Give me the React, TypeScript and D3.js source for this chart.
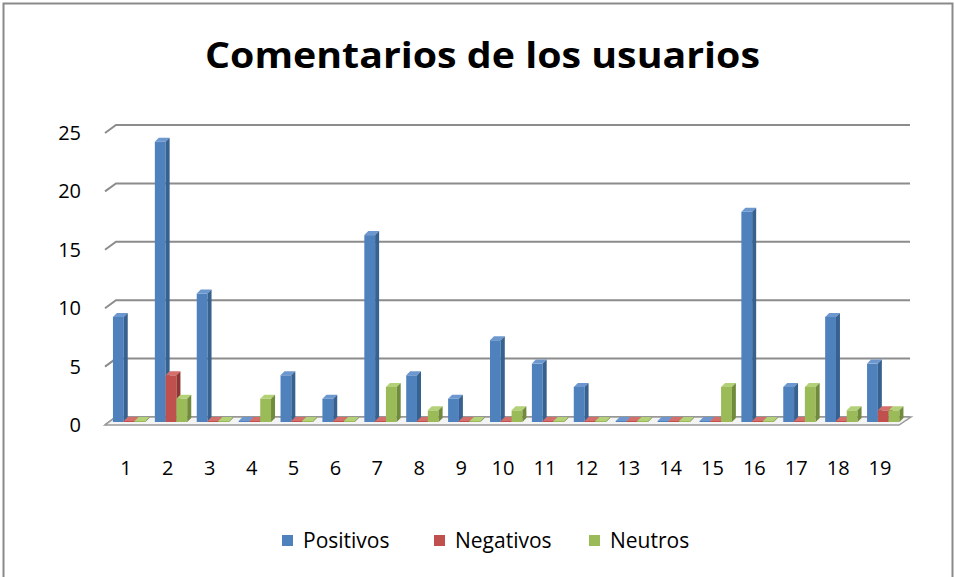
import React from 'react';
import * as d3 from 'd3';

const categories = ['1', '2', '3', '4', '5', '6', '7', '8', '9', '10', '11', '12', '13', '14', '15', '16', '17', '18', '19'];
const positivos = [9, 24, 11, 0, 4, 2, 16, 4, 2, 7, 5, 3, 0, 0, 0, 18, 3, 9, 5];
const negativos = [0, 4, 0, 0, 0, 0, 0, 0, 0, 0, 0, 0, 0, 0, 0, 0, 0, 0, 1];
const neutros = [0, 2, 0, 2, 0, 0, 3, 1, 0, 1, 0, 0, 0, 0, 3, 0, 3, 1, 1];
const yTicks = [0, 5, 10, 15, 20, 25];

const seriesList = [
  { name: 'Positivos', values: positivos, front: '#4f81bd', top: '#6d98cf', side: '#37618f' },
  { name: 'Negativos', values: negativos, front: '#c0504d', top: '#d46f6c', side: '#8f3532' },
  { name: 'Neutros', values: neutros, front: '#9bbb59', top: '#b3d176', side: '#718b3c' },
];

const W = 955;
const H = 577;
const FONT = '"Open Sans", sans-serif';

// front plane of the 3D box
const left = 105;
const right = 901;
const wallDx = 11;
const wallDy = -8;
const wallRight = 910;

const x = d3.scaleBand<string>().domain(categories).range([left, right]);
const y = d3.scaleLinear().domain([0, 25]).range([425, 133]);

const barW = 10.8;
const depth = 4;
const barDy = -3;

export default function App() {
  const bars: React.ReactNode[] = [];
  categories.forEach((c, i) => {
    const center = (x(c) as number) + x.bandwidth() / 2;
    seriesList.forEach((s, j) => {
      const v = s.values[i];
      const bx = center - 13 + j * barW;
      const top = y(v) + barDy - (v === 0 ? 1 : 0);
      const bottom = y(0) + barDy;
      bars.push(
        <g key={`${c}-${s.name}`}>
          <rect x={bx} y={top} width={barW} height={bottom - top} fill={s.front} />
          <polygon
            points={`${bx},${top} ${bx + depth},${top - depth} ${bx + barW + depth},${top - depth} ${bx + barW},${top}`}
            fill={s.top}
          />
          <polygon
            points={`${bx + barW},${top} ${bx + barW + depth},${top - depth} ${bx + barW + depth},${bottom - depth} ${bx + barW},${bottom}`}
            fill={s.side}
          />
        </g>
      );
    });
  });

  const legendItems = [
    { label: 'Positivos', x: 282 },
    { label: 'Negativos', x: 434 },
    { label: 'Neutros', x: 589 },
  ];

  return (
    <div style={{ position: 'absolute', left: 0, top: 0 }}>
      <svg width={W} height={H} style={{ display: 'block', background: '#fff' }}>
        <rect x={3.5} y={3.5} width={949} height={600} fill="#fff" stroke="#8a8a8a" strokeWidth={2} />

        <text
          x={205}
          y={68}
          textLength={555}
          lengthAdjust="spacingAndGlyphs"
          fontFamily={FONT}
          fontWeight={700}
          fontSize={35}
          fill="#000"
        >
          Comentarios de los usuarios
        </text>

        {/* gridlines on the back wall */}
        {yTicks.map((t) => (
          <path
            key={t}
            d={`M${left},${y(t)} L${left + wallDx},${y(t) + wallDy} L${wallRight},${y(t) + wallDy}`}
            fill="none"
            stroke="#8c8c8c"
            strokeWidth={2}
          />
        ))}

        {/* floor */}
        <polygon
          points={`${left},${y(0)} ${wallRight - wallDx},${y(0)} ${wallRight + 1},${y(0) + wallDy} ${left + wallDx},${y(0) + wallDy}`}
          fill="#f4f4f4"
          stroke="#9a9a9a"
          strokeWidth={1.5}
        />

        {bars}

        {yTicks.map((t) => (
          <text key={t} x={81} y={y(t) + 7} textAnchor="end" fontFamily={FONT} fontSize={20} fill="#000">
            {t}
          </text>
        ))}

        {categories.map((c) => (
          <text
            key={c}
            x={(x(c) as number) + x.bandwidth() / 2}
            y={475}
            textAnchor="middle"
            fontFamily={FONT}
            fontSize={20}
            fill="#000"
          >
            {c}
          </text>
        ))}

        {legendItems.map((l, i) => (
          <g key={l.label}>
            <rect x={l.x} y={535} width={11} height={11} fill={seriesList[i].front} />
            <text x={l.x + 21} y={548} fontFamily={FONT} fontSize={21} fill="#000">
              {l.label}
            </text>
          </g>
        ))}
      </svg>
    </div>
  );
}
